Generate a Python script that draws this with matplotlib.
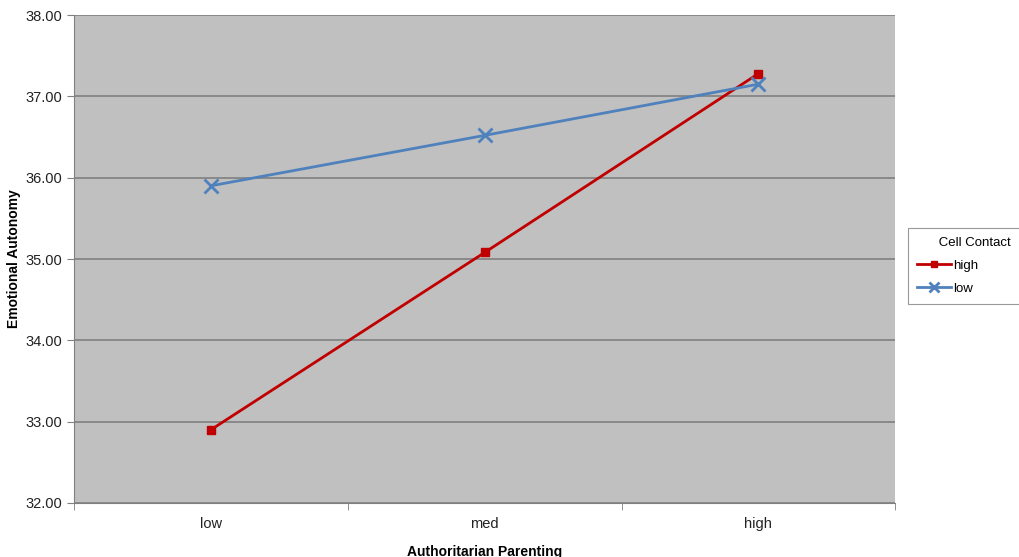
import matplotlib.pyplot as plt

plt.rcParams['font.family'] = ['Liberation Sans', 'DejaVu Sans']

# Data
categories = ['low', 'med', 'high']
high_contact = [32.90, 35.08, 37.28]
low_contact = [35.90, 36.52, 37.15]
y_ticks = [32, 33, 34, 35, 36, 37, 38]

fig = plt.figure(figsize=(10.19, 5.57), dpi=100)
ax = fig.add_axes([0.0726, 0.097, 0.806, 0.876])
ax.set_facecolor('#c0c0c0')

x = list(range(len(categories)))
ax.plot(x, high_contact, color='#c00000', lw=2, marker='s', ms=6, label='high', zorder=3)
ax.plot(x, low_contact, color='#4f81bd', lw=2, marker='x', ms=10, mew=2, label='low', zorder=3)

ax.set_xlim(-0.5, len(categories) - 0.5)
ax.set_ylim(32, 38)
ax.set_yticks(y_ticks)
ax.set_yticklabels(['%.2f' % v for v in y_ticks])
ax.set_xticks(x)
ax.set_xticklabels(categories)
ax.tick_params(axis='x', length=0, pad=10, labelsize=10.5, colors='#222222')
ax.set_xticks([i - 0.5 for i in range(len(categories) + 1)], minor=True)
ax.tick_params(axis='x', which='minor', length=5, color='#808080')
ax.tick_params(axis='y', length=5, color='#808080', labelsize=10.5, colors='#222222')
ax.grid(axis='y', color='#808080', lw=1.2)
ax.set_axisbelow(True)

for s in ['top', 'right']:
    ax.spines[s].set_visible(False)
ax.spines['left'].set_color('#808080')
ax.spines['bottom'].set_color('#808080')

ax.set_xlabel('Authoritarian Parenting', fontweight='bold', fontsize=10, labelpad=10)
ax.set_ylabel('Emotional Autonomy', fontweight='bold', fontsize=10, labelpad=3)

# legend sits partly off the right edge, like the original
leg = ax.legend(title='      Cell Contact', loc='upper left', bbox_to_anchor=(0.891, 0.591),
                bbox_transform=fig.transFigure, borderaxespad=0, fancybox=False,
                edgecolor='#808080', fontsize=9.5, title_fontsize=9.5, markerscale=0.7,
                handlelength=2.6, handletextpad=0.1, borderpad=0.7, labelspacing=0.8,
                alignment='left')
leg.get_frame().set_linewidth(0.8)

fig.savefig('out.png', dpi=100)
